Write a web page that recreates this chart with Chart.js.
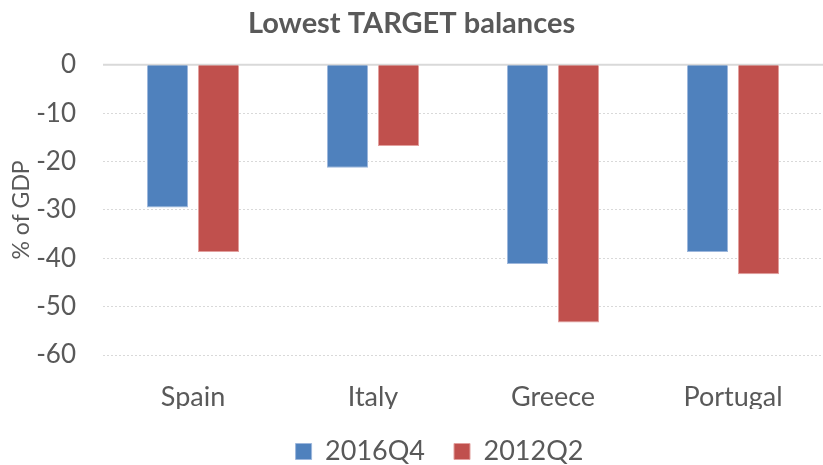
<!DOCTYPE html>
<html>
<head>
<meta charset="utf-8">
<script src="https://cdn.jsdelivr.net/npm/chart.js@4/dist/chart.umd.min.js"></script>
<style>
html,body{margin:0;padding:0;background:#fff;}
#wrap{width:823px;height:465px;position:relative;}
</style>
</head>
<body>
<div id="wrap"><canvas id="c" width="823" height="465"></canvas></div>
<script>
const categories = ["Spain", "Italy", "Greece", "Portugal"];
const series2016Q4 = [-29.5, -21.3, -41.2, -38.7];
const series2012Q2 = [-38.7, -16.8, -53.3, -43.3];
const seriesNames = ["2016Q4", "2012Q2"];
const yTicks = [0, -10, -20, -30, -40, -50, -60];

const FONT = "Lato, 'Liberation Sans', sans-serif";
const TXT = "#595959";

const zeroLine = {
  id: "zeroLine",
  beforeDatasetsDraw(chart) {
    const y = chart.scales.y.getPixelForValue(0);
    const ctx = chart.ctx, a = chart.chartArea;
    ctx.save();
    ctx.strokeStyle = "#d9d9d9";
    ctx.lineWidth = 2;
    ctx.beginPath();
    ctx.moveTo(a.left, y);
    ctx.lineTo(a.right, y);
    ctx.stroke();
    ctx.restore();
  }
};

const legendShift = {
  id: "legendShift",
  afterLayout(chart) {
    if (chart.legend) { chart.legend.left += 56; }
  }
};

new Chart(document.getElementById("c"), {
  type: "bar",
  data: {
    labels: categories,
    datasets: [
      { label: seriesNames[0], data: series2016Q4, backgroundColor: "#4F81BD", borderColor: "#9DB7DC", borderWidth: 1 },
      { label: seriesNames[1], data: series2012Q2, backgroundColor: "#C0504D", borderColor: "#E2A09E", borderWidth: 1 }
    ]
  },
  options: {
    responsive: false,
    animation: false,
    devicePixelRatio: 1,
    layout: { padding: { left: 0, right: 0, top: 0, bottom: -10 } },
    datasets: { bar: { categoryPercentage: 0.567, barPercentage: 0.804 } },
    plugins: {
      title: {
        display: true, text: "Lowest TARGET balances", color: TXT,
        font: { family: FONT, size: 29, weight: "bold" },
        padding: { top: 6, bottom: 24 }
      },
      legend: {
        position: "bottom",
        labels: {
          color: TXT, font: { family: FONT, size: 27, lineHeight: 1.0 },
          boxWidth: 16, boxHeight: 16, padding: 29
        }
      },
      tooltip: { enabled: false }
    },
    scales: {
      x: {
        grid: { display: false, drawTicks: false },
        border: { display: false },
        ticks: { color: TXT, font: { family: FONT, size: 27 }, padding: 26 },
        afterFit(scale) { scale.height = 54; }
      },
      y: {
        min: -60, max: 0,
        afterBuildTicks(scale) { scale.ticks = yTicks.map(v => ({ value: v })); },
        afterFit(scale) { scale.width = 103; },
        grid: { color: "#d9d9d9", lineWidth: 1, drawTicks: false },
        border: { display: false, dash: [2, 2] },
        ticks: { color: TXT, font: { family: FONT, size: 26 }, padding: 27 },
        title: { display: true, text: "% of GDP", color: TXT, font: { family: FONT, size: 23 }, padding: { top: 8, bottom: 0 } }
      }
    }
  },
  plugins: [zeroLine, legendShift]
});
</script>
</body>
</html>
